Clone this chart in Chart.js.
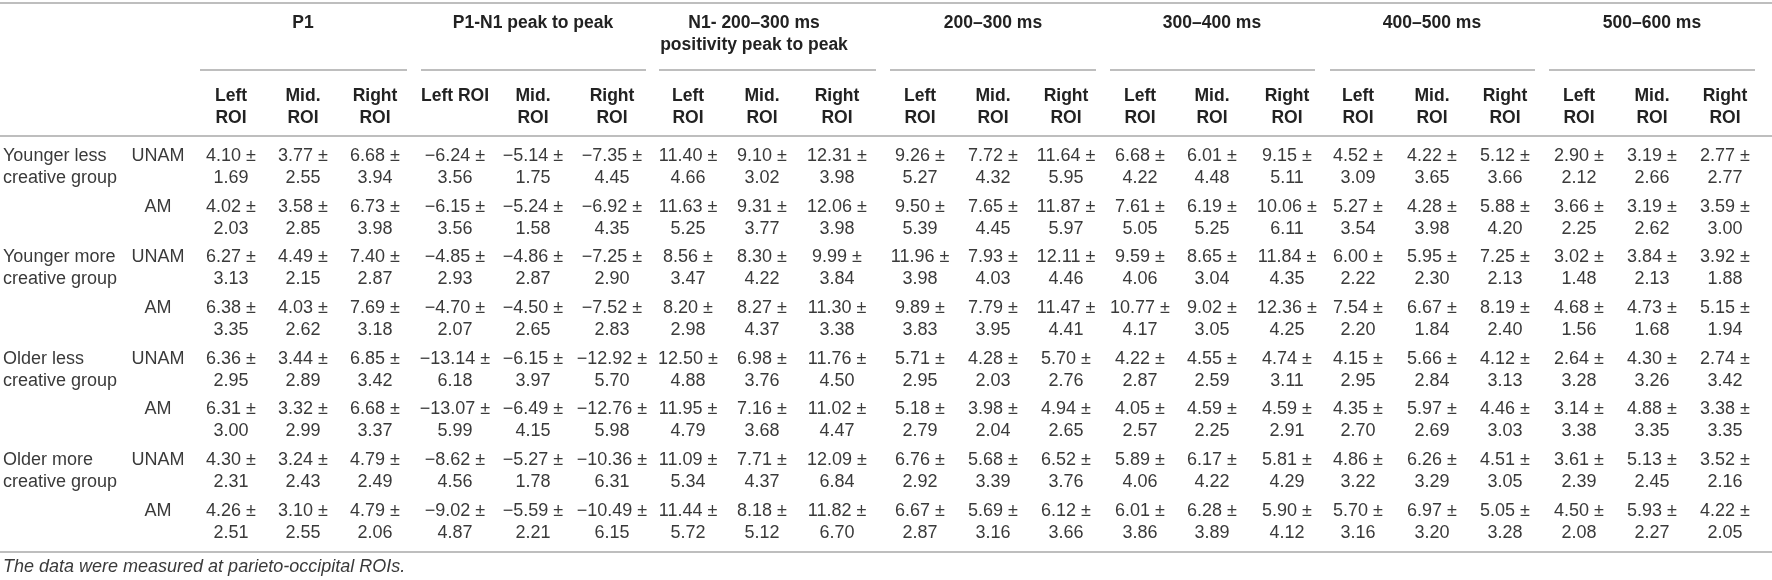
<!DOCTYPE html>
<html>
<head>
<meta charset="utf-8">
<script src="https://cdn.jsdelivr.net/npm/chart.js@4.4.1/dist/chart.umd.min.js"></script>
<style>
  html, body { margin: 0; padding: 0; background: #ffffff; }
  #wrap { width: 1772px; height: 580px; }
</style>
</head>
<body>
<div id="wrap"><canvas id="c" width="1772" height="580"></canvas></div>
<script>
// ---------------- DATA ----------------
const measures = ["P1", "P1-N1 peak to peak", "N1- 200–300 ms\npositivity peak to peak", "200–300 ms", "300–400 ms", "400–500 ms", "500–600 ms"];
const rois = ["Left ROI", "Mid. ROI", "Right ROI"];
const groups = ["Younger less\ncreative group", "Younger more\ncreative group", "Older less\ncreative group", "Older more\ncreative group"];
const conditions = ["UNAM", "AM"];
const footnote = "The data were measured at parieto-occipital ROIs.";

const meanYL_UNAM = [4.10, 3.77, 6.68, -6.24, -5.14, -7.35, 11.40, 9.10, 12.31, 9.26, 7.72, 11.64, 6.68, 6.01, 9.15, 4.52, 4.22, 5.12, 2.90, 3.19, 2.77];
const sdYL_UNAM   = [1.69, 2.55, 3.94, 3.56, 1.75, 4.45, 4.66, 3.02, 3.98, 5.27, 4.32, 5.95, 4.22, 4.48, 5.11, 3.09, 3.65, 3.66, 2.12, 2.66, 2.77];
const meanYL_AM   = [4.02, 3.58, 6.73, -6.15, -5.24, -6.92, 11.63, 9.31, 12.06, 9.50, 7.65, 11.87, 7.61, 6.19, 10.06, 5.27, 4.28, 5.88, 3.66, 3.19, 3.59];
const sdYL_AM     = [2.03, 2.85, 3.98, 3.56, 1.58, 4.35, 5.25, 3.77, 3.98, 5.39, 4.45, 5.97, 5.05, 5.25, 6.11, 3.54, 3.98, 4.20, 2.25, 2.62, 3.00];
const meanYM_UNAM = [6.27, 4.49, 7.40, -4.85, -4.86, -7.25, 8.56, 8.30, 9.99, 11.96, 7.93, 12.11, 9.59, 8.65, 11.84, 6.00, 5.95, 7.25, 3.02, 3.84, 3.92];
const sdYM_UNAM   = [3.13, 2.15, 2.87, 2.93, 2.87, 2.90, 3.47, 4.22, 3.84, 3.98, 4.03, 4.46, 4.06, 3.04, 4.35, 2.22, 2.30, 2.13, 1.48, 2.13, 1.88];
const meanYM_AM   = [6.38, 4.03, 7.69, -4.70, -4.50, -7.52, 8.20, 8.27, 11.30, 9.89, 7.79, 11.47, 10.77, 9.02, 12.36, 7.54, 6.67, 8.19, 4.68, 4.73, 5.15];
const sdYM_AM     = [3.35, 2.62, 3.18, 2.07, 2.65, 2.83, 2.98, 4.37, 3.38, 3.83, 3.95, 4.41, 4.17, 3.05, 4.25, 2.20, 1.84, 2.40, 1.56, 1.68, 1.94];
const meanOL_UNAM = [6.36, 3.44, 6.85, -13.14, -6.15, -12.92, 12.50, 6.98, 11.76, 5.71, 4.28, 5.70, 4.22, 4.55, 4.74, 4.15, 5.66, 4.12, 2.64, 4.30, 2.74];
const sdOL_UNAM   = [2.95, 2.89, 3.42, 6.18, 3.97, 5.70, 4.88, 3.76, 4.50, 2.95, 2.03, 2.76, 2.87, 2.59, 3.11, 2.95, 2.84, 3.13, 3.28, 3.26, 3.42];
const meanOL_AM   = [6.31, 3.32, 6.68, -13.07, -6.49, -12.76, 11.95, 7.16, 11.02, 5.18, 3.98, 4.94, 4.05, 4.59, 4.59, 4.35, 5.97, 4.46, 3.14, 4.88, 3.38];
const sdOL_AM     = [3.00, 2.99, 3.37, 5.99, 4.15, 5.98, 4.79, 3.68, 4.47, 2.79, 2.04, 2.65, 2.57, 2.25, 2.91, 2.70, 2.69, 3.03, 3.38, 3.35, 3.35];
const meanOM_UNAM = [4.30, 3.24, 4.79, -8.62, -5.27, -10.36, 11.09, 7.71, 12.09, 6.76, 5.68, 6.52, 5.89, 6.17, 5.81, 4.86, 6.26, 4.51, 3.61, 5.13, 3.52];
const sdOM_UNAM   = [2.31, 2.43, 2.49, 4.56, 1.78, 6.31, 5.34, 4.37, 6.84, 2.92, 3.39, 3.76, 4.06, 4.22, 4.29, 3.22, 3.29, 3.05, 2.39, 2.45, 2.16];
const meanOM_AM   = [4.26, 3.10, 4.79, -9.02, -5.59, -10.49, 11.44, 8.18, 11.82, 6.67, 5.69, 6.12, 6.01, 6.28, 5.90, 5.70, 6.97, 5.05, 4.50, 5.93, 4.22];
const sdOM_AM     = [2.51, 2.55, 2.06, 4.87, 2.21, 6.15, 5.72, 5.12, 6.70, 2.87, 3.16, 3.66, 3.86, 3.89, 4.12, 3.16, 3.20, 3.28, 2.08, 2.27, 2.05];

const meanRows = [meanYL_UNAM, meanYL_AM, meanYM_UNAM, meanYM_AM, meanOL_UNAM, meanOL_AM, meanOM_UNAM, meanOM_AM];
const sdRows   = [sdYL_UNAM, sdYL_AM, sdYM_UNAM, sdYM_AM, sdOL_UNAM, sdOL_AM, sdOM_UNAM, sdOM_AM];

// ---------------- LAYOUT (positions in scale units) ----------------
const colCenters = [231, 303, 375, 455, 533, 612, 688, 762, 837, 920, 993, 1066, 1140, 1212, 1287, 1358, 1432, 1505, 1579, 1652, 1725];
const groupRules = [[200, 407], [421, 646], [659, 876], [890, 1096], [1110, 1315], [1330, 1535], [1549, 1755]];
const groupCenters = [303, 533, 754, 993, 1212, 1432, 1652];
const singleLineHeaderCols = [3];
const L = {
  labelX: 3, condX: 158,
  topRule: 3, groupY1: 23, groupY2: 45, groupRuleY: 70,
  headY1: 96, headY2: 118, headRule: 136,
  row0: 156, rowPitch: 50.7, lineGap: 22,
  bottomRule: 552, footY: 567, right: 1772
};
const FONT = '"Liberation Sans", Arial, Helvetica, sans-serif';
const HEAD_SIZE = 17.5;
const BODY_SIZE = 18;

function fmt(v) { return (v < 0 ? "\u2212" : "") + Math.abs(v).toFixed(2); }

const tablePlugin = {
  id: 'tablePlugin',
  afterDraw(chart) {
    const ctx = chart.ctx;
    const xs = chart.scales.x, ys = chart.scales.y;
    const X = v => xs.getPixelForValue(v);
    const Y = v => ys.getPixelForValue(v);
    ctx.save();
    // rules
    ctx.strokeStyle = '#a8a8a8';
    ctx.lineWidth = 1.4;
    const hline = (x0, x1, y) => { ctx.beginPath(); ctx.moveTo(X(x0), Y(y)); ctx.lineTo(X(x1), Y(y)); ctx.stroke(); };
    hline(0, L.right, L.topRule);
    groupRules.forEach(r => hline(r[0], r[1], L.groupRuleY));
    hline(0, L.right, L.headRule);
    hline(0, L.right, L.bottomRule);

    ctx.textBaseline = 'middle';
    // group headers
    ctx.fillStyle = '#222222';
    ctx.font = 'bold ' + HEAD_SIZE + 'px ' + FONT;
    ctx.textAlign = 'center';
    measures.forEach((m, g) => {
      const lines = m.split('\n');
      lines.forEach((ln, k) => ctx.fillText(ln, X(groupCenters[g]), Y(k === 0 ? L.groupY1 : L.groupY2)));
    });
    // ROI headers
    colCenters.forEach((cx, j) => {
      const label = rois[j % 3];
      if (singleLineHeaderCols.includes(j)) {
        ctx.fillText(label, X(cx), Y(L.headY1));
      } else {
        const parts = label.split(' ');
        ctx.fillText(parts[0], X(cx), Y(L.headY1));
        ctx.fillText(parts.slice(1).join(' '), X(cx), Y(L.headY2));
      }
    });

    // body
    ctx.fillStyle = '#3a3a3a';
    ctx.font = BODY_SIZE + 'px ' + FONT;
    meanRows.forEach((row, i) => {
      const y1 = L.row0 + i * L.rowPitch, y2 = y1 + L.lineGap;
      if (i % 2 === 0) {
        ctx.textAlign = 'left';
        const gl = groups[i / 2].split('\n');
        ctx.fillText(gl[0], X(L.labelX), Y(y1));
        ctx.fillText(gl[1], X(L.labelX), Y(y2));
      }
      ctx.textAlign = 'center';
      ctx.fillText(conditions[i % 2], X(L.condX), Y(y1));
      row.forEach((v, j) => {
        ctx.fillText(fmt(v) + ' \u00b1', X(colCenters[j]), Y(y1));
        ctx.fillText(sdRows[i][j].toFixed(2), X(colCenters[j]), Y(y2));
      });
    });
    // footnote
    ctx.textAlign = 'left';
    ctx.font = 'italic ' + BODY_SIZE + 'px ' + FONT;
    ctx.fillText(footnote, X(L.labelX), Y(L.footY));
    ctx.restore();
  }
};

new Chart(document.getElementById('c'), {
  type: 'scatter',
  data: { datasets: [] },
  options: {
    responsive: false,
    animation: false,
    devicePixelRatio: 1,
    layout: { padding: 0 },
    plugins: { legend: { display: false }, tooltip: { enabled: false }, title: { display: false } },
    scales: {
      x: { type: 'linear', min: 0, max: 1772, display: false },
      y: { type: 'linear', min: 0, max: 580, reverse: true, display: false }
    }
  },
  plugins: [tablePlugin]
});
</script>
</body>
</html>
